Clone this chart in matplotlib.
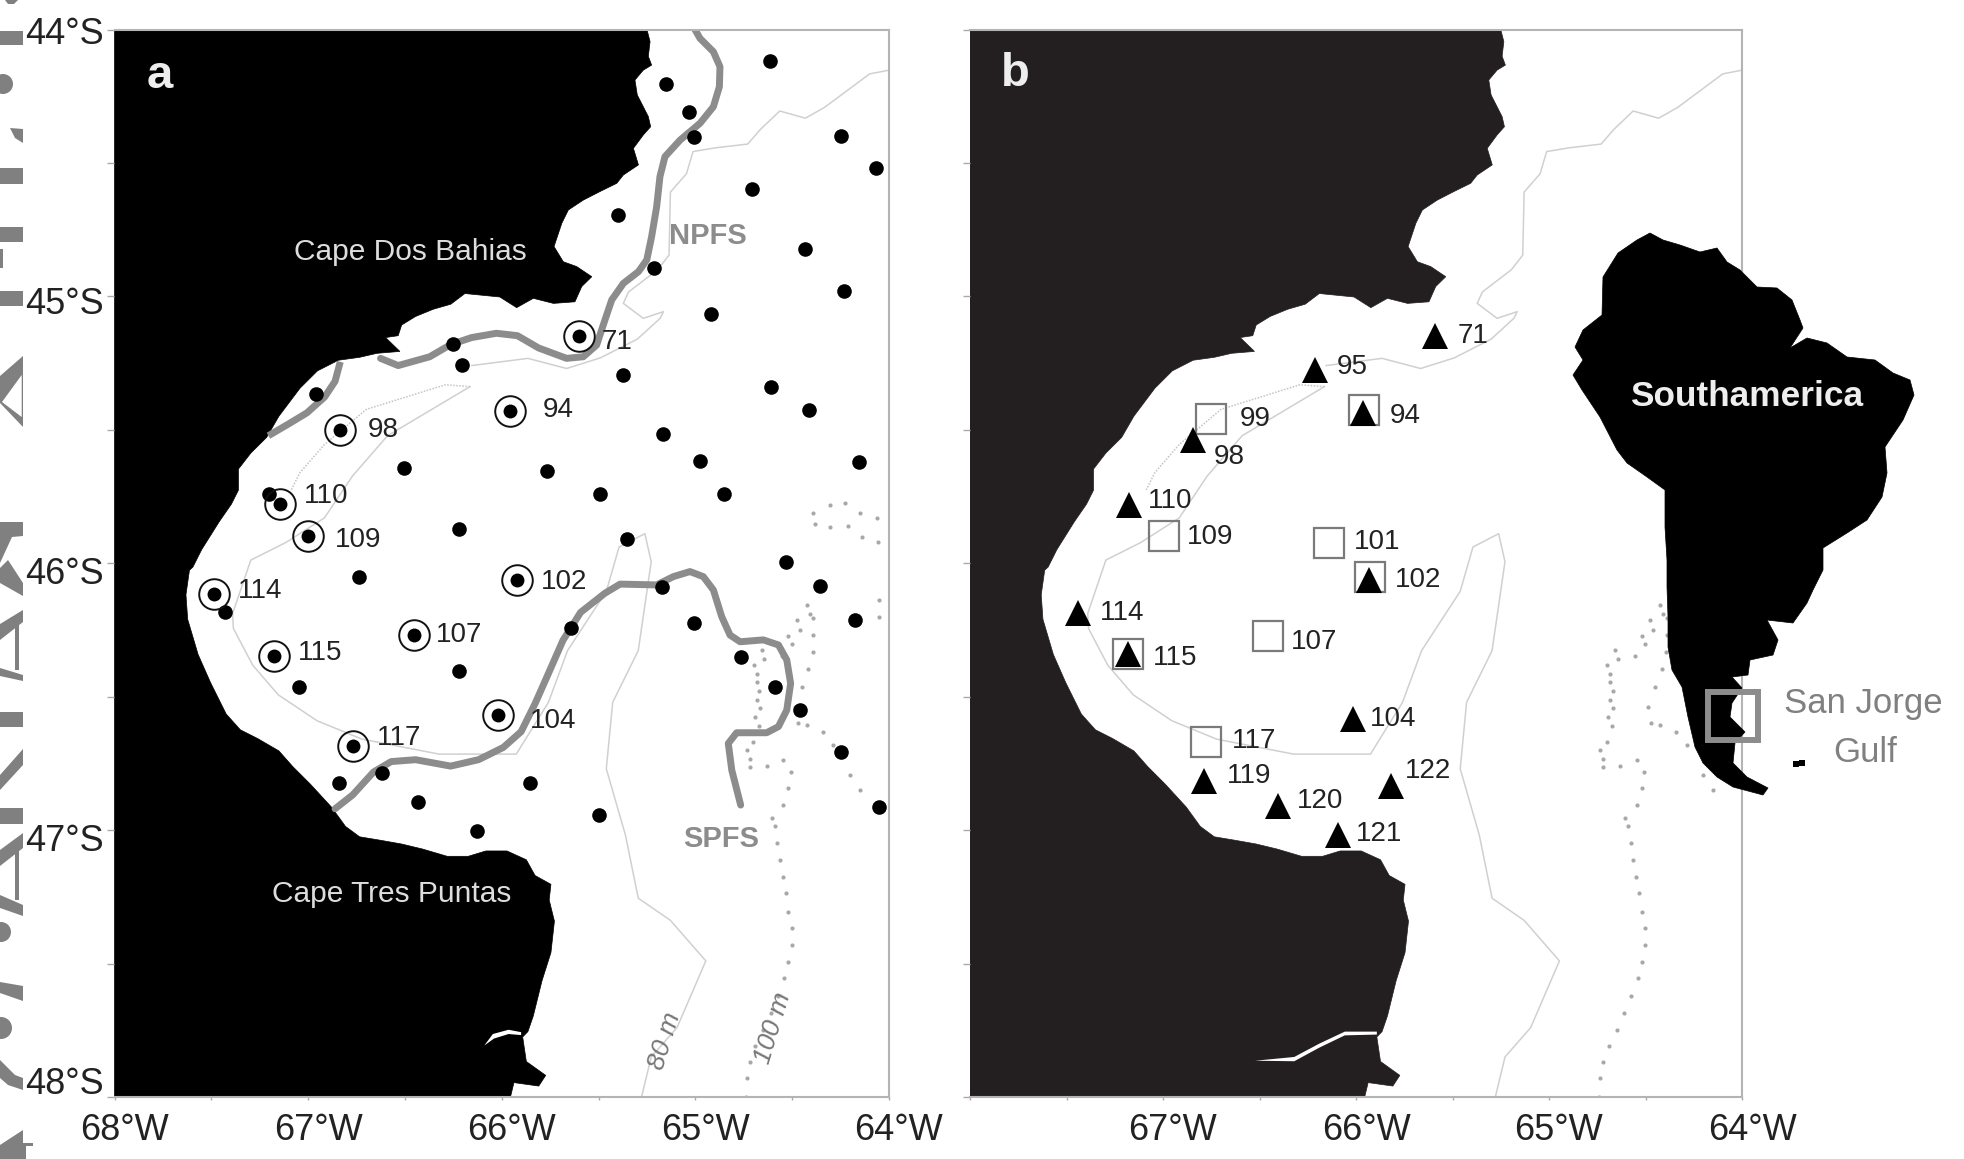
import matplotlib
matplotlib.use("Agg")
import matplotlib.pyplot as plt
from matplotlib.patches import Polygon, Circle
from matplotlib.transforms import ScaledTranslation

plt.rcParams['font.family'] = ['Liberation Sans', 'DejaVu Sans']

# ---------- data (lon, lat in degrees) ----------
coast_lon = [-65.25,-65.234,-65.243,-65.226,-65.269,-65.312,-65.30,-65.269,-65.243,-65.231,-65.269,-65.32,-65.294,-65.372,-65.406,-65.493,-65.579,-65.656,-65.69,-65.73,-65.682,-65.613,-65.535,-65.587,-65.622,-65.733,-65.837,-65.923,-66.01,-66.19,-66.263,-66.354,-66.445,-66.517,-66.535,-66.60,-66.526,-66.644,-66.734,-66.844,-66.952,-67.042,-67.151,-67.214,-67.296,-67.36,-67.36,-67.396,-67.459,-67.55,-67.595,-67.613,-67.631,-67.622,-67.568,-67.504,-67.423,-67.35,-67.26,-67.151,-67.079,-66.988,-66.879,-66.807,-66.734,-66.626,-66.517,-66.408,-66.282,-66.173,-66.082,-65.973,-65.873,-65.828,-65.746,-65.755,-65.728,-65.746,-65.792,-65.837,-65.865,-65.892,-65.873,-65.773,-65.809,-65.937,-65.955,-68.0,-68.0]
coast_lat = [-44.0,-44.045,-44.10,-44.133,-44.152,-44.189,-44.245,-44.289,-44.326,-44.364,-44.395,-44.445,-44.507,-44.545,-44.576,-44.607,-44.639,-44.676,-44.726,-44.813,-44.87,-44.888,-44.926,-44.963,-45.02,-45.026,-45.007,-45.042,-45.002,-44.989,-45.029,-45.048,-45.075,-45.107,-45.147,-45.154,-45.206,-45.213,-45.228,-45.239,-45.279,-45.344,-45.449,-45.528,-45.587,-45.647,-45.726,-45.778,-45.844,-45.949,-46.014,-46.026,-46.118,-46.21,-46.342,-46.447,-46.565,-46.624,-46.657,-46.703,-46.762,-46.828,-46.914,-46.986,-47.025,-47.038,-47.052,-47.071,-47.098,-47.098,-47.078,-47.078,-47.111,-47.17,-47.203,-47.262,-47.341,-47.459,-47.564,-47.696,-47.755,-47.775,-47.867,-47.919,-47.959,-47.946,-48.0,-48.0,-44.0]

river_a_lon = [-66.09,-66.046,-65.965,-65.90,-65.90,-65.965,-66.04]
river_a_lat = [-47.807,-47.764,-47.748,-47.757,-47.768,-47.764,-47.781]
river_b_lon = [-66.523,-66.32,-66.19,-66.058,-65.892,-65.892,-66.058,-66.19,-66.32]
river_b_lat = [-47.864,-47.85,-47.80,-47.755,-47.755,-47.766,-47.769,-47.815,-47.866]

npfs_lon = [-65.002,-64.976,-64.907,-64.873,-64.876,-64.907,-64.976,-65.079,-65.157,-65.183,-65.2,-65.226,-65.251,-65.294,-65.372,-65.432,-65.467,-65.51,-65.579,-65.665,-65.81,-65.919,-66.028,-66.155,-66.263,-66.372,-66.535,-66.626]
npfs_lat = [-44.0,-44.033,-44.083,-44.139,-44.214,-44.289,-44.351,-44.414,-44.476,-44.551,-44.664,-44.776,-44.863,-44.907,-44.951,-45.013,-45.088,-45.182,-45.226,-45.232,-45.193,-45.147,-45.138,-45.154,-45.18,-45.226,-45.259,-45.232]
npfs_west_lon = [-66.834,-66.861,-66.915,-67.006,-67.097,-67.205]
npfs_west_lat = [-45.245,-45.318,-45.377,-45.436,-45.476,-45.522]
spfs_lon = [-66.861,-66.77,-66.662,-66.571,-66.445,-66.264,-66.12,-65.992,-65.9,-65.828,-65.756,-65.684,-65.593,-65.467,-65.389,-65.2,-65.114,-65.028,-64.959,-64.907,-64.864,-64.821,-64.769,-64.649,-64.571,-64.528,-64.508,-64.528,-64.571,-64.632,-64.787,-64.83,-64.812,-64.766]
spfs_lat = [-46.92,-46.868,-46.782,-46.743,-46.736,-46.76,-46.736,-46.69,-46.631,-46.526,-46.408,-46.289,-46.184,-46.112,-46.078,-46.081,-46.05,-46.031,-46.05,-46.1,-46.2,-46.269,-46.294,-46.287,-46.306,-46.362,-46.45,-46.55,-46.612,-46.635,-46.635,-46.675,-46.775,-46.906]

iso80_north_lon = [-64.0,-64.1,-64.332,-64.432,-64.564,-64.664,-64.73,-64.896,-65.012,-65.046,-65.129,-65.136,-65.195,-65.345,-65.372,-65.269,-65.165,-65.182,-65.3,-65.49,-65.665,-65.865,-66.155]
iso80_north_lat = [-44.152,-44.166,-44.291,-44.332,-44.305,-44.374,-44.429,-44.443,-44.457,-44.54,-44.609,-44.845,-44.9,-44.983,-45.026,-45.082,-45.057,-45.082,-45.16,-45.23,-45.27,-45.232,-45.259]
iso80_main_lon = [-66.164,-66.59,-66.771,-66.916,-67.115,-67.296,-67.39,-67.386,-67.286,-67.154,-66.954,-66.722,-66.324,-65.925,-65.759,-65.66,-65.46,-65.394,-65.261,-65.228,-65.295,-65.427,-65.46,-65.361,-65.295,-65.129,-64.946,-65.095,-65.228,-65.278]
iso80_main_lat = [-45.338,-45.522,-45.673,-45.83,-45.922,-45.988,-46.188,-46.244,-46.382,-46.493,-46.59,-46.659,-46.715,-46.715,-46.521,-46.327,-46.105,-45.939,-45.889,-45.994,-46.327,-46.521,-46.77,-47.019,-47.255,-47.338,-47.49,-47.74,-47.85,-48.0]
iso80_branch_lon = [-66.164,-66.291,-66.699,-66.916,-67.042,-67.087]
iso80_branch_lat = [-45.338,-45.331,-45.423,-45.555,-45.66,-45.725]

iso100_lon = [-64.735,-64.718,-64.632,-64.546,-64.506,-64.52,-64.546,-64.606,-64.692,-64.683,-64.683,-64.697,-64.657,-64.52,-64.477,-64.425,-64.39,-64.39,-64.394,-64.416,-64.451,-64.425,-64.342,-64.287,-64.201,-64.15,-64.39,-64.382,-64.304,-64.304,-64.227,-64.213,-64.149,-64.141,-64.063,-64.055,-64.051,-64.051,-64.486,-64.47,
              -64.589,-64.577,-64.563,-64.549,-64.532,-64.52,-64.503,-64.503,-64.52,-64.54,-64.575,-64.61,-64.65,-64.69,-64.72,-64.735,-64.74,-64.701,-64.719,-64.672,-64.666,-64.67,-64.684,-64.644,-64.554,-64.503,-64.46,-64.408]
iso100_lat = [-46.70,-46.762,-46.76,-46.737,-46.781,-46.843,-46.906,-46.956,-46.575,-46.512,-46.444,-46.381,-46.325,-46.272,-46.212,-46.156,-46.206,-46.269,-46.331,-46.397,-46.462,-46.606,-46.631,-46.681,-46.793,-46.85,-45.813,-45.853,-45.782,-45.863,-45.775,-45.86,-45.81,-45.9,-45.831,-45.919,-46.138,-46.2,-46.54,-46.6,
              -46.983,-47.049,-47.112,-47.174,-47.237,-47.306,-47.368,-47.431,-47.493,-47.555,-47.62,-47.685,-47.75,-47.81,-47.87,-47.93,-48.0,-46.671,-46.733,-46.609,-46.541,-46.479,-46.416,-46.36,-46.348,-46.304,-46.25,-46.191]

dot_lon = [-64.613,-65.151,-65.031,-65.006,-64.25,-64.066,-64.708,-65.398,-64.436,-65.214,-64.231,-64.92,-66.251,-66.207,-65.375,-64.61,-64.414,-66.96,-65.167,-64.974,-64.155,-66.507,-65.768,-65.492,-64.851,-67.2,-66.22,-65.353,-64.534,-64.357,-66.735,-65.173,-67.428,-65.006,-64.174,-65.644,-64.762,-66.22,-67.048,-64.588,-64.458,-64.247,-66.843,-66.621,-65.853,-66.435,-64.05,-65.496,-66.128]
dot_lat = [-44.119,-44.205,-44.307,-44.404,-44.399,-44.518,-44.596,-44.693,-44.823,-44.892,-44.978,-45.064,-45.18,-45.258,-45.294,-45.341,-45.427,-45.366,-45.515,-45.618,-45.62,-45.643,-45.654,-45.74,-45.74,-45.74,-45.873,-45.909,-45.997,-46.086,-46.05,-46.089,-46.183,-46.224,-46.211,-46.241,-46.352,-46.402,-46.465,-46.465,-46.548,-46.706,-46.823,-46.784,-46.823,-46.895,-46.914,-46.945,-47.005]

circ_lon = [-65.603,-65.957,-66.836,-67.143,-67.0,-67.485,-65.919,-66.451,-67.178,-66.021,-66.77]
circ_lat = [-45.15,-45.429,-45.499,-45.778,-45.898,-46.116,-46.064,-46.269,-46.349,-46.568,-46.684]
labels_a = ['71','94','98','110','109','114','102','107','115','104','117']
labels_a_lon = [-65.404,-65.707,-66.612,-66.906,-66.742,-67.247,-65.676,-66.22,-66.938,-65.736,-66.53]
labels_a_lat = [-45.169,-45.427,-45.499,-45.748,-45.911,-46.105,-46.069,-46.269,-46.338,-46.59,-46.654]

tri_lon = [-65.593,-66.214,-65.965,-66.845,-67.177,-65.932,-67.442,-67.18,-66.018,-66.788,-65.819,-66.403,-66.091]
tri_lat = [-45.15,-45.274,-45.435,-45.537,-45.781,-46.064,-46.188,-46.341,-46.582,-46.814,-46.834,-46.909,-47.019]
box_lon = [-66.749,-65.959,-66.994,-66.141,-65.925,-66.456,-67.18,-66.775]
box_lat = [-45.46,-45.427,-45.898,-45.925,-46.05,-46.271,-46.341,-46.668]
labels_b = ['71','95','94','99','98','110','109','101','102','114','107','115','104','117','119','122','120','121']
labels_b_lon = [-65.394,-66.018,-65.743,-66.523,-66.656,-66.964,-66.755,-65.892,-65.676,-67.21,-66.217,-66.938,-65.809,-66.529,-66.556,-65.627,-66.184,-65.879]
labels_b_lat = [-45.15,-45.266,-45.449,-45.46,-45.601,-45.765,-45.903,-45.92,-46.064,-46.188,-46.294,-46.355,-46.582,-46.665,-46.798,-46.778,-46.889,-47.014]

x_ticks = [-68,-67,-66,-65,-64]
x_labels_a = ['68°W','67°W','66°W','65°W','64°W']
x_labels_b = ['','67°W','66°W','65°W','64°W']
y_ticks = [-44,-45,-46,-47,-48]
y_labels = ['44°S','45°S','46°S','47°S','48°S']
y_label_shift_px = [1,3.6,7,7,-16]
x_minor = [-67.5,-66.5,-65.5,-64.5]
y_minor = [-44.5,-45.5,-46.5,-47.5]

# South America silhouette, in inset units
sa_x = [90,103,120,140,157,167,180,197,217,232,240,243,230,247,267,287,315,333,350,354,343,325,327,322,307,287,263,263,253,247,233,207,218,213,190,188,172,182,172,170,185,175,173,187,208,203,173,157,143,135,128,122,112,108,108,107,107,105,105,87,67,57,40,22,13,23,15,23,42,43,58,77]
sa_y = [13,20,25,32,28,42,50,67,68,80,100,108,128,118,123,137,140,153,160,175,200,227,253,277,300,313,328,350,370,383,403,400,420,435,440,455,457,468,483,497,512,523,543,557,568,575,567,557,543,527,497,467,450,427,397,367,340,307,270,257,243,230,197,170,155,140,127,110,95,57,33,20]
isle_x = [112,118,122,125,128,236,242]
isle_y = [350,352,372,385,395,544,543]

GREY = '#8c8c8c'
TXT = '#222222'
W, H = 1965, 1159
fig = plt.figure(figsize=(W/100, H/100), dpi=100, facecolor='white')

def rect(l, r, t, b):
    return [l/W, 1-b/H, (r-l)/W, (b-t)/H]

# ---------- clipped watermark at the left page edge ----------
bg = fig.add_axes([0, 0, 1, 1], zorder=0)
bg.set_xlim(0, W); bg.set_ylim(H, 0); bg.axis('off')
WM = '#808080'
for y0, y1 in [(31,45),(168,184),(227,242),(291,306),(712,727),(808,824)]:
    bg.add_patch(Polygon([(0,y0),(23,y0),(23,y1),(0,y1)], fc=WM, ec='none'))
for pts in [[(5,0),(18,0),(14,4),(8,4)],
            [(10,128),(23,129),(23,143),(15,138)],
            [(0,249),(3,249),(3,268),(0,268)],
            [(23,356),(0,376),(0,403),(23,427)],
            [(0,522),(23,522),(23,536),(12,537),(0,563)],
            [(8,560),(23,583),(23,596),(0,583),(0,568)],
            [(23,610),(0,624),(0,640),(23,622)],
            [(15,622),(19,622),(19,670),(15,670)],
            [(0,668),(23,675),(23,681),(0,676)],
            [(23,749),(0,775),(0,790),(23,765)],
            [(23,833),(0,850),(0,866),(23,848)],
            [(15,848),(19,848),(19,900),(15,900)],
            [(0,895),(23,905),(23,916),(0,908)],
            [(0,982),(23,986),(23,1001),(0,993)],
            [(0,1060),(15,1075),(23,1078),(23,1090),(8,1085),(0,1078)],
            [(23,1130),(0,1145),(0,1159),(23,1159)],
            [(18,1143),(33,1143),(33,1146),(26,1146),(26,1159),(20,1159)]]:
    bg.add_patch(Polygon(pts, fc=WM, ec='none'))
bg.add_patch(Polygon([(21.7,375),(21.7,417),(2,402)], fc='white', ec='none'))
bg.add_patch(Circle((3,84), 10, fc=WM, ec='none'))
bg.add_patch(Circle((1,932), 10, fc=WM, ec='none'))
bg.add_patch(Circle((1,1028), 11, fc=WM, ec='none'))

def base_map(ax, land, river_lon, river_lat):
    ax.set_xlim(-68, -64); ax.set_ylim(-48, -44)
    ax.fill(coast_lon, coast_lat, fc=land, ec=land, lw=0.5, zorder=1)
    ax.fill(river_lon, river_lat, fc='white', ec='none', zorder=1.5)
    ax.plot(iso80_north_lon, iso80_north_lat, color='#d0d0d0', lw=1.1, zorder=1.2)
    ax.plot(iso80_main_lon, iso80_main_lat, color='#d0d0d0', lw=1.1, zorder=1.2)
    ax.plot(iso80_branch_lon, iso80_branch_lat, color='#c4c4c4', lw=1.1, ls=(0, (1, 1)), zorder=1.2)
    ax.scatter(iso100_lon, iso100_lat, s=9, c='#a8a8a8', linewidths=0, zorder=1.2)
    for s in ax.spines.values():
        s.set_color('#b4b4b4'); s.set_linewidth(1.5)
    ax.spines['left'].set_visible(False)
    ax.set_facecolor('none')
    ax.tick_params(axis='x', which='both', length=2.5, color='#aaaaaa', width=1, labelsize=26, labelcolor=TXT, pad=9)
    ax.tick_params(axis='y', which='both', length=5, color='#aaaaaa', width=1, labelsize=26, labelcolor=TXT, pad=3)
    ax.set_xticks(x_minor, minor=True)
    ax.set_yticks(y_minor, minor=True)

# ---------- panel a ----------
axa = fig.add_axes(rect(114.5, 889, 29.6, 1097), zorder=1)
base_map(axa, 'black', river_a_lon, river_a_lat)
axa.set_xticks(x_ticks, x_labels_a)
axa.set_yticks(y_ticks, y_labels)
for lab in axa.get_xticklabels():
    lab.set_transform(lab.get_transform() + ScaledTranslation(10/100, 0, fig.dpi_scale_trans))
for lab, dy in zip(axa.get_yticklabels(), y_label_shift_px):
    lab.set_transform(lab.get_transform() + ScaledTranslation(0, -dy/100, fig.dpi_scale_trans))

axa.plot(npfs_lon, npfs_lat, color=GREY, lw=5, solid_capstyle='round', zorder=2)
axa.plot(npfs_west_lon, npfs_west_lat, color=GREY, lw=5, solid_capstyle='butt', zorder=2)
axa.plot(spfs_lon, spfs_lat, color=GREY, lw=5, solid_capstyle='round', zorder=2)
axa.plot(dot_lon, dot_lat, ls='', marker='o', ms=10.5, mfc='black', mec='black', mew=0, zorder=3)
axa.plot(circ_lon, circ_lat, ls='', marker='o', ms=10, mfc='black', mec='black', mew=0, zorder=3)
axa.plot(circ_lon, circ_lat, ls='', marker='o', ms=22, mfc='none', mec='#111111', mew=1.4, zorder=3)
for t, x, y in zip(labels_a, labels_a_lon, labels_a_lat):
    axa.text(x, y, t, fontsize=20, color=TXT, ha='center', va='center', zorder=4)
axa.text(-67.767, -44.174, 'a', fontsize=34, fontweight='bold', color='#eeeeee', ha='center', va='center', zorder=4)
axa.text(-66.472, -44.832, 'Cape Dos Bahias', fontsize=21.5, color='#dddddd', ha='center', va='center', zorder=4)
axa.text(-66.571, -47.238, 'Cape Tres Puntas', fontsize=21.5, color='#dddddd', ha='center', va='center', zorder=4)
axa.text(-64.938, -44.773, 'NPFS', fontsize=21, fontweight='bold', color=GREY, ha='center', va='center', zorder=4)
axa.text(-64.866, -47.033, 'SPFS', fontsize=21, fontweight='bold', color=GREY, ha='center', va='center', zorder=4)
axa.text(-65.16, -47.79, '80 m', fontsize=19, style='italic', color='#777777', rotation=73, ha='center', va='center', zorder=4)
axa.text(-64.60, -47.74, '100 m', fontsize=19, style='italic', color='#777777', rotation=73, ha='center', va='center', zorder=4)

# ---------- panel b ----------
axb = fig.add_axes(rect(970, 1742, 29.6, 1097), zorder=2)
base_map(axb, '#231f20', river_b_lon, river_b_lat)
axb.set_xticks(x_ticks, x_labels_b)
axb.set_yticks(y_ticks, ['']*5)
for lab in axb.get_xticklabels():
    lab.set_transform(lab.get_transform() + ScaledTranslation(10/100, 0, fig.dpi_scale_trans))
axb.plot(box_lon, box_lat, ls='', marker='s', ms=22, mfc='none', mec='#7a7a7a', mew=1.6, zorder=3)
axb.plot(tri_lon, tri_lat, ls='', marker='^', ms=19, mfc='black', mec='black', mew=0, zorder=4)
for t, x, y in zip(labels_b, labels_b_lon, labels_b_lat):
    axb.text(x, y, t, fontsize=20, color=TXT, ha='center', va='center', zorder=5)
axb.text(-67.767, -44.166, 'b', fontsize=34, fontweight='bold', color='#eeeeee', ha='center', va='center', zorder=5)

# ---------- South America inset ----------
ins = fig.add_axes(rect(1560, 1965, 220, 965), zorder=3)
ins.set_xlim(0, 405); ins.set_ylim(745, 0); ins.axis('off')
ins.fill(sa_x, sa_y, fc='black', ec='black', lw=0.5, zorder=1)
ins.scatter(isle_x, isle_y, s=22, c='black', marker='s', linewidths=0, zorder=1)
ins.plot([148,198,198,148,148], [472,472,520,520,472], color=GREY, lw=4.3, solid_joinstyle='miter', zorder=2)
ins.text(187, 176, 'Southamerica', fontsize=25.4, fontweight='bold', color='#eeeeee', ha='center', va='center', zorder=3)
ins.text(303, 483, 'San Jorge', fontsize=25, color='#808080', ha='center', va='center', zorder=3)
ins.text(305, 533, 'Gulf', fontsize=25, color='#808080', ha='center', va='center', zorder=3)

fig.savefig('out.png', dpi=100, facecolor='white')
